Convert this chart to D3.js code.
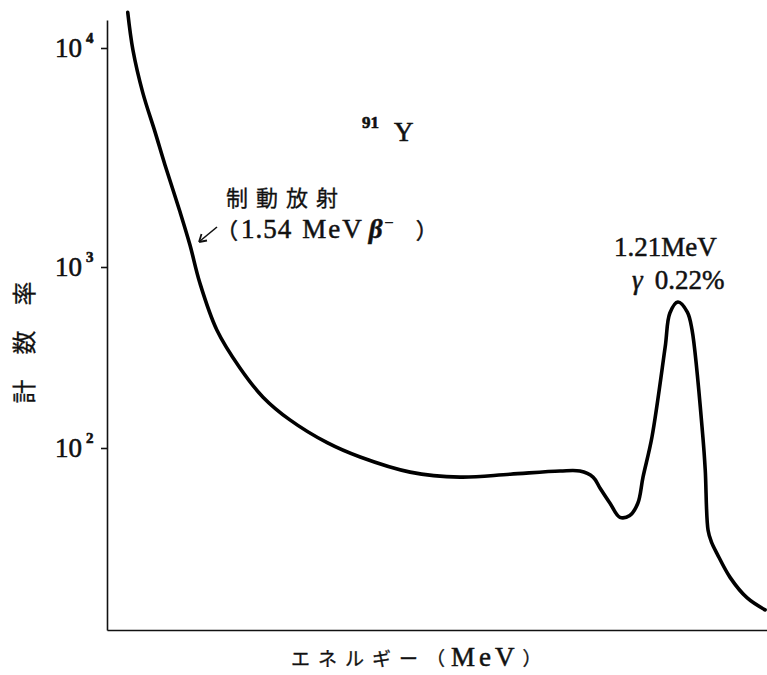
<!DOCTYPE html>
<html>
<head>
<meta charset="utf-8">
<script src="https://cdn.jsdelivr.net/npm/d3@7"></script>
<style>
  html, body { margin: 0; padding: 0; background: #fff; }
  svg { display: block; }
</style>
</head>
<body>
<svg id="chart" width="767" height="675"></svg>
<script>
// ---- data ----
const energy = [0.044, 0.055, 0.076, 0.102, 0.123, 0.155, 0.176, 0.197, 0.233, 0.282,
  0.331, 0.388, 0.467, 0.537, 0.643, 0.749, 0.855, 0.961, 1.003, 1.031,
  1.046, 1.067, 1.088, 1.109, 1.126, 1.137, 1.156, 1.184, 1.194, 1.211,
  1.231, 1.241, 1.264, 1.269, 1.275, 1.282, 1.294, 1.322, 1.358, 1.396];
const counts = [14650, 9790, 6240, 4130, 2925, 1782, 1260, 816, 449, 277,
  191, 143, 107, 89.2, 73.7, 69.2, 71.8, 74.7, 74.7, 69.2,
  60.1, 49.7, 41.6, 42.6, 49.7, 69.2, 115, 361, 557, 641,
  564, 449, 115, 75.5, 35.3, 30.5, 26.3, 19.4, 15.0, 12.9];
const yTickValues = [100, 1000, 10000];
const yTickExponents = ["2", "3", "4"];
const xLabelKana = "エネルギー";
const yLabel = "計数率";
const isotopeMass = "91";
const isotopeSymbol = "Y";
const bremLine1 = "制動放射";
const peakLine1 = "1.21MeV";
const peakGamma = "γ";
const peakLine2 = "0.22%";

// ---- scales ----
const svg = d3.select("#chart");
const x = d3.scaleLinear().domain([0, 1.4]).range([107, 767]);
const y = d3.scaleLog().domain([10, 100, 1000, 10000, 13500]).range([630, 448, 267, 48, 20]);

const serif = "'Liberation Serif', 'DejaVu Serif', serif";
const cjk = "'Noto Sans CJK JP', 'Noto Sans CJK SC', sans-serif";
const ink = "#111";

// ---- axes ----
const yAxis = d3.axisLeft(y).tickValues(yTickValues).tickFormat("").tickSize(6).tickSizeOuter(0);
const gy = svg.append("g").attr("transform", "translate(107,0)").call(yAxis);
gy.selectAll("path, line").attr("stroke", ink).attr("stroke-width", 1.6);

const xAxis = d3.axisBottom(x).tickValues([]).tickSizeOuter(0);
const gx = svg.append("g").attr("transform", "translate(0,630)").call(xAxis);
gx.selectAll("path").attr("stroke", ink).attr("stroke-width", 1.6);

function heavy(sel, w) {
  return sel.attr("fill", ink).attr("stroke", ink).attr("stroke-width", w).attr("paint-order", "stroke");
}

// y tick labels: 10^n
yTickValues.forEach((v, i) => {
  const t = heavy(svg.append("text")
    .attr("x", 55).attr("y", y(v) + 9)
    .attr("font-family", serif).attr("font-size", 27), 0.6);
  t.append("tspan").text("10");
  t.append("tspan").attr("dx", 4).attr("dy", -14).attr("font-size", 15).attr("font-weight", "bold").text(yTickExponents[i]);
});

// ---- curve ----
const pts = energy.map((e, i) => [e, counts[i]]);
const line = d3.line().x(d => x(d[0])).y(d => y(d[1])).curve(d3.curveCatmullRom.alpha(0.5));
svg.append("path").datum(pts)
  .attr("d", line)
  .attr("fill", "none").attr("stroke", "#000").attr("stroke-width", 3.6)
  .attr("stroke-linejoin", "round").attr("stroke-linecap", "round");

// ---- axis titles ----
heavy(svg.append("text")
  .attr("transform", "translate(33,330) rotate(-90)")
  .attr("text-anchor", "middle")
  .attr("font-family", cjk).attr("font-size", 24).attr("letter-spacing", 25)
  .text(yLabel), 0.3);

const xt = heavy(svg.append("text")
  .attr("x", 291).attr("y", 666)
  .attr("font-family", cjk).attr("font-size", 19), 0.3);
xt.append("tspan").attr("letter-spacing", 8).text(xLabelKana);
xt.append("tspan").text("（");
xt.append("tspan").attr("dx", 6).attr("font-family", serif).attr("font-size", 27).attr("letter-spacing", 4).attr("stroke-width", 0.5).text("MeV");
xt.append("tspan").attr("dx", 4).text("）");

// ---- annotations ----
const iso = heavy(svg.append("text").attr("x", 362).attr("y", 141)
  .attr("font-family", serif).attr("font-size", 27), 0.6);
iso.append("tspan").attr("dy", -13).attr("font-size", 17).attr("font-weight", "bold").text(isotopeMass);
iso.append("tspan").attr("dx", 15).attr("dy", 13).text(isotopeSymbol);

heavy(svg.append("text").attr("x", 226).attr("y", 206)
  .attr("font-family", cjk).attr("font-size", 22).attr("letter-spacing", 8)
  .text(bremLine1), 0.3);

const b2 = heavy(svg.append("text").attr("x", 216).attr("y", 238)
  .attr("font-family", serif).attr("font-size", 27), 0.5);
b2.append("tspan").attr("font-family", cjk).attr("font-size", 22).text("（");
b2.append("tspan").attr("dx", 3).attr("letter-spacing", 1).text("1.54");
b2.append("tspan").attr("dx", 10).attr("letter-spacing", 2).text("MeV");
b2.append("tspan").attr("dx", 5).attr("font-style", "italic").attr("font-weight", "bold").text("β");
b2.append("tspan").attr("dx", 2).attr("dy", -10).attr("font-size", 16).text("−");
b2.append("tspan").attr("dy", 10).attr("dx", 22).attr("font-family", cjk).attr("font-size", 22).text("）");

// arrow
svg.append("line").attr("x1", 217).attr("y1", 227).attr("x2", 200).attr("y2", 241)
  .attr("stroke", ink).attr("stroke-width", 1.6);
svg.append("path").attr("d", "M199,242 L201.5,234 M199,242 L207,240.5")
  .attr("stroke", ink).attr("stroke-width", 1.8).attr("fill", "none");

heavy(svg.append("text").attr("x", 614).attr("y", 256)
  .attr("font-family", serif).attr("font-size", 27)
  .text(peakLine1), 0.5);
const p2 = heavy(svg.append("text").attr("x", 632).attr("y", 289)
  .attr("font-family", serif).attr("font-size", 27), 0.5);
p2.append("tspan").attr("font-style", "italic").text(peakGamma);
p2.append("tspan").attr("dx", 12).text(peakLine2);
</script>
</body>
</html>
